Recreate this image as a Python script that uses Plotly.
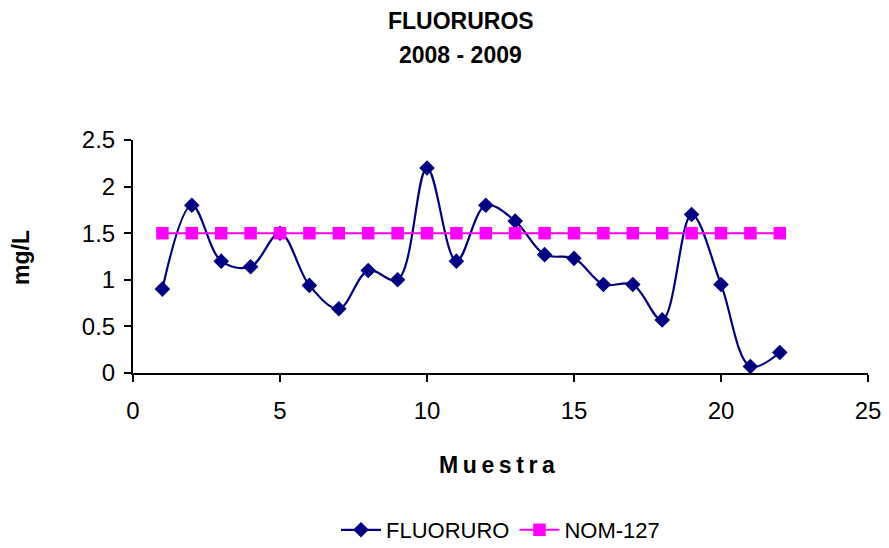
import plotly.graph_objects as go

muestra = list(range(1, 23))
fluoruro = [0.9, 1.8, 1.2, 1.14, 1.5, 0.94, 0.69, 1.1, 1.0, 2.2, 1.2, 1.8,
            1.63, 1.27, 1.23, 0.95, 0.95, 0.57, 1.7, 0.95, 0.07, 0.22]
nom127 = [1.5] * 22

FONT = "Liberation Sans, Arial, sans-serif"

# page body has an 8px margin; plot area in window pixels: x 133..868, y 140..373
L, T = 125, 132
PW, PH = 735, 233
W, H = 881, 540

def px(X):
    return (X - 133) / PW

def py(Y):
    return (373 - Y) / PH

fig = go.Figure()
fig.add_trace(go.Scatter(
    x=muestra, y=fluoruro, name="FLUORURO", mode="lines+markers",
    line=dict(color="#000080", width=2.2, shape="spline", smoothing=1.0),
    marker=dict(symbol="diamond", size=12, color="#000080"),
))
fig.add_trace(go.Scatter(
    x=muestra, y=nom127, name="NOM-127", mode="lines+markers",
    line=dict(color="#FF00FF", width=2),
    marker=dict(symbol="square", size=12.5, color="#FF00FF"),
))

fig.update_layout(
    width=W, height=H,
    margin=dict(l=L, r=W - L - PW, t=T, b=H - T - PH, autoexpand=False),
    plot_bgcolor="white", paper_bgcolor="white",
    font=dict(family=FONT, size=22, color="black"),
    showlegend=True,
    legend=dict(orientation="h", x=0.5, xanchor="center", y=py(530), yanchor="middle",
                font=dict(size=22), itemwidth=40),
    xaxis=dict(range=[0, 25], dtick=5, tick0=0, showgrid=False, zeroline=False,
               showline=True, linecolor="black", linewidth=2,
               ticks="outside", ticklen=7, tickwidth=2, tickcolor="black",
               tickfont=dict(size=24), ticklabelstandoff=8),
    yaxis=dict(range=[0, 2.5], dtick=0.5, tick0=0, showgrid=False, zeroline=False,
               showline=True, linecolor="black", linewidth=2,
               ticks="outside", ticklen=7, tickwidth=2, tickcolor="black",
               tickfont=dict(size=24), ticklabelstandoff=4),
    annotations=[
        dict(text="<b>FLUORUROS</b>", x=px(461), y=py(21), xref="paper", yref="paper",
             xanchor="center", yanchor="middle", showarrow=False, font=dict(size=23)),
        dict(text="<b>2008 - 2009</b>", x=px(460), y=py(55), xref="paper", yref="paper",
             xanchor="center", yanchor="middle", showarrow=False, font=dict(size=23)),
        dict(text="<b>M\u2009u\u2009e\u2009s\u2009t\u2009r\u2009a</b>", x=px(497), y=py(465),
             xref="paper", yref="paper", xanchor="center", yanchor="middle",
             showarrow=False, font=dict(size=23)),
        dict(text="<b>mg/L</b>", x=px(21), y=py(257), xref="paper", yref="paper",
             xanchor="center", yanchor="middle", showarrow=False, textangle=-90,
             font=dict(size=23)),
    ],
)

fig.write_html("out.html")
